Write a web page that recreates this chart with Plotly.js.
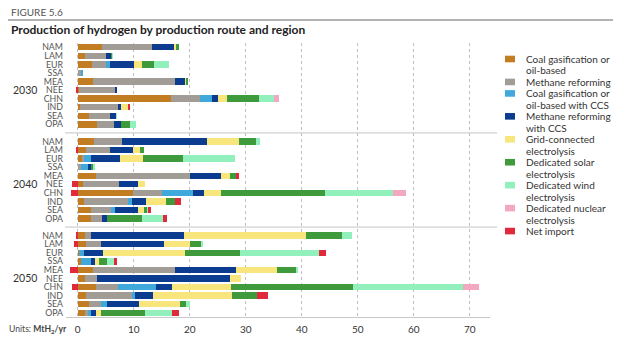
<!DOCTYPE html>
<html>
<head>
<meta charset="utf-8">
<script src="https://cdn.plot.ly/plotly-3.0.1.min.js"></script>
<style>
  html, body { margin: 0; padding: 0; background: #fff; }
  #chart { width: 621px; height: 337px; }
</style>
</head>
<body>
<div id="chart"></div>
<script>
// Hydrogen production by route, MtH2/yr; each series lists the ten regions
// for 2030, then 2040, then 2050.
const regions = ['NAM', 'LAM', 'EUR', 'SSA', 'MEA', 'NEE', 'CHN', 'IND', 'SEA', 'OPA'];
const years = ['2030', '2040', '2050'];
const xTicks = [0, 10, 20, 30, 40, 50, 60, 70];

const coalOil = [
  4.4, 1.3, 2.6, 0, 2.8, 0.3, 16.6, 0.4, 2.0, 3.5,
  2.9, 1.4, 0.8, 0, 3.2, 1.0, 9.9, 1.1, 2.4, 2.4,
  1.3, 1.4, 0.3, 0.6, 2.8, 1.3, 3.3, 1.5, 2.0, 1.3
];
const methane = [
  8.9, 3.8, 2.4, 0.6, 14.5, 6.3, 5.2, 6.8, 3.7, 2.9,
  5.0, 4.3, 0.4, 0.6, 16.8, 6.4, 5.2, 7.9, 3.6, 1.9,
  1.1, 2.8, 0, 0, 14.6, 2.2, 3.8, 8.1, 2.1, 0.6
];
const coalOilCCS = [
  0, 0, 0.7, 0.4, 0, 0, 2.2, 0, 0, 0,
  0, 0, 1.1, 1.3, 0, 0, 5.4, 0.6, 0.7, 0,
  0, 0, 0.8, 1.8, 0, 0, 6.9, 0.6, 1.2, 0.4
];
const methaneCCS = [
  3.9, 0.8, 4.4, 0, 1.8, 0.4, 1.1, 0.6, 1.1, 1.4,
  15.2, 4.1, 5.2, 0.4, 5.6, 3.4, 2.0, 2.5, 4.1, 0.9,
  16.6, 11.2, 3.4, 0.6, 10.8, 23.6, 2.9, 3.3, 5.7, 0.9
];
const gridElec = [
  0.3, 0, 1.3, 0, 0.3, 0, 1.6, 1.2, 0, 0,
  5.6, 1.3, 4.2, 0, 1.5, 1.2, 3.0, 3.6, 1.0, 0,
  21.8, 4.6, 14.6, 0.8, 7.4, 2.1, 10.4, 14.1, 7.2, 1.0
];
const solarElec = [
  0.5, 0.2, 2.2, 0, 0.3, 0, 5.7, 0, 0, 1.6,
  3.2, 0.7, 7.1, 0.4, 1.2, 0, 18.7, 1.6, 0.5, 6.3,
  6.3, 2.0, 9.8, 1.4, 3.3, 0, 21.9, 4.4, 1.2, 7.8
];
const windElec = [
  0, 0.2, 2.7, 0, 0, 0, 2.7, 0, 0.2, 1.0,
  0.7, 0, 9.2, 0.3, 0, 0, 12.0, 0, 0.2, 3.7,
  1.8, 0.3, 14.1, 1.3, 0.4, 0, 19.5, 0, 0.7, 4.8
];
const nuclearElec = [
  0, 0, 0, 0, 0, 0, 0.9, 0, 0, 0,
  0, 0, 0, 0, 0, 0, 2.4, 0, 0, 0,
  0, 0, 0, 0, 0, 0, 3.0, 0, 0, 0
];
const netImport = [
  0, 0, 0, 0, 0, -0.4, 0, 0.3, 0, 0,
  0, -0.3, 0, 0, 0.4, -1.0, -1.2, 1.2, 0.6, 0.7,
  -0.3, -0.7, 1.4, 0.5, -1.4, 0, -1.1, 2.0, 0, 1.2
];

const seriesNames = [
  'Coal gasification or<br>oil-based',
  'Methane reforming',
  'Coal gasification or<br>oil-based with CCS',
  'Methane reforming<br>with CCS',
  'Grid-connected<br>electrolysis',
  'Dedicated solar<br>electrolysis',
  'Dedicated wind<br>electrolysis',
  'Dedicated nuclear<br>electrolysis',
  'Net import'
];
const seriesValues = [coalOil, methane, coalOilCCS, methaneCCS, gridElec,
                      solarElec, windElec, nuclearElec, netImport];
const seriesColors = ['#c27c22', '#a29c96', '#3fa9dc', '#0b3c8f', '#f8e67c',
                      '#3f9a3b', '#92f0bd', '#f3a8c2', '#e02a3c'];

// Row slots: ten regions per year with one empty slot between years.
const rowPos = [];
years.forEach((yr, yi) => regions.forEach((r, ri) => rowPos.push(yi * 11 + ri)));

const FONT = 'Lato, "Open Sans", Arial, sans-serif';
const W = 621, H = 337;
const M = { l: 66, r: 131, t: 43, b: 20 };
const plotW = W - M.l - M.r, plotH = H - M.t - M.b;
const px2x = p => (p - M.l) / plotW;
const px2y = p => (H - M.b - p) / plotH;

const traces = seriesValues.map((vals, i) => ({
  type: 'bar',
  orientation: 'h',
  name: seriesNames[i],
  x: vals,
  y: rowPos,
  width: 0.75,
  marker: { color: seriesColors[i], line: { width: 0 } },
  showlegend: false,
  hoverinfo: 'x+name'
}));

const annotations = [];
const shapes = [];

// Year labels beside the middle row of each block
years.forEach((yr, yi) => {
  annotations.push({
    xref: 'paper', yref: 'y', x: px2x(39), y: yi * 11 + 5,
    xanchor: 'right', yanchor: 'middle', showarrow: false,
    text: yr, font: { family: FONT, size: 10.5, color: '#333' }
  });
});

// Separators between the year blocks
[10, 21].forEach(yv => {
  shapes.push({
    type: 'line', xref: 'paper', yref: 'y',
    x0: px2x(65), x1: px2x(497), y0: yv, y1: yv,
    line: { color: '#c4c4c4', width: 1 }
  });
});

// Legend: colour keys and wrapped labels
const legLine = 11.47, legTop = 59;
let lineIdx = 0;
seriesNames.forEach((name, i) => {
  const lines = name.split('<br>');
  const yc = legTop + lineIdx * legLine;
  shapes.push({
    type: 'rect', xref: 'paper', yref: 'paper',
    x0: px2x(505), x1: px2x(515), y0: px2y(yc + 3.3), y1: px2y(yc - 3.3),
    fillcolor: seriesColors[i], line: { width: 0 }
  });
  lines.forEach((ln, k) => {
    annotations.push({
      xref: 'paper', yref: 'paper', x: px2x(524), y: px2y(yc + k * legLine),
      xanchor: 'left', yanchor: 'middle', showarrow: false,
      text: ln, font: { family: FONT, size: 10, color: '#333' }
    });
  });
  lineIdx += lines.length;
});

// Heading, rule and units
annotations.push({
  xref: 'paper', yref: 'paper', x: px2x(9), y: px2y(12),
  xanchor: 'left', yanchor: 'middle', showarrow: false,
  text: 'FIGURE 5.6', font: { family: FONT, size: 10, color: '#555' }
});
annotations.push({
  xref: 'paper', yref: 'paper', x: px2x(9), y: px2y(30),
  xanchor: 'left', yanchor: 'middle', showarrow: false,
  text: '<b>Production of hydrogen by production route and region</b>',
  font: { family: FONT, size: 12, color: '#222' }
});
shapes.push({
  type: 'line', xref: 'paper', yref: 'paper',
  x0: px2x(8), x1: px2x(613), y0: px2y(20), y1: px2y(20),
  line: { color: '#9a9a9a', width: 1.5 }
});
annotations.push({
  xref: 'paper', yref: 'paper', x: px2x(7), y: px2y(330),
  xanchor: 'left', yanchor: 'middle', showarrow: false,
  text: 'Units: <b>MtH<sub>2</sub>/yr</b>',
  font: { family: FONT, size: 8.6, color: '#444' }
});

const layout = {
  width: W, height: H,
  margin: M,
  paper_bgcolor: '#fff', plot_bgcolor: '#fff',
  barmode: 'relative',
  bargap: 0,
  font: { family: FONT, color: '#333' },
  xaxis: {
    range: [-2.1, 73.6],
    tickvals: xTicks,
    ticktext: xTicks.map(String),
    showgrid: true, gridcolor: '#bdbdbd', griddash: 'dot', gridwidth: 1,
    zeroline: false,
    showline: true, linecolor: '#c8c8c8', linewidth: 1,
    ticks: '', ticklabelstandoff: 3,
    tickfont: { family: FONT, size: 10, color: '#333' },
    fixedrange: true
  },
  yaxis: {
    range: [31.5, -0.5],
    tickvals: rowPos,
    ticktext: rowPos.map((p, i) => regions[i % 10]),
    showgrid: false, zeroline: false, showline: false,
    ticks: '', ticklabelstandoff: 2,
    tickfont: { family: FONT, size: 8.8, color: '#555' },
    fixedrange: true
  },
  annotations: annotations,
  shapes: shapes,
  showlegend: false
};

Plotly.newPlot('chart', traces, layout, { displayModeBar: false, staticPlot: true });
</script>
</body>
</html>
